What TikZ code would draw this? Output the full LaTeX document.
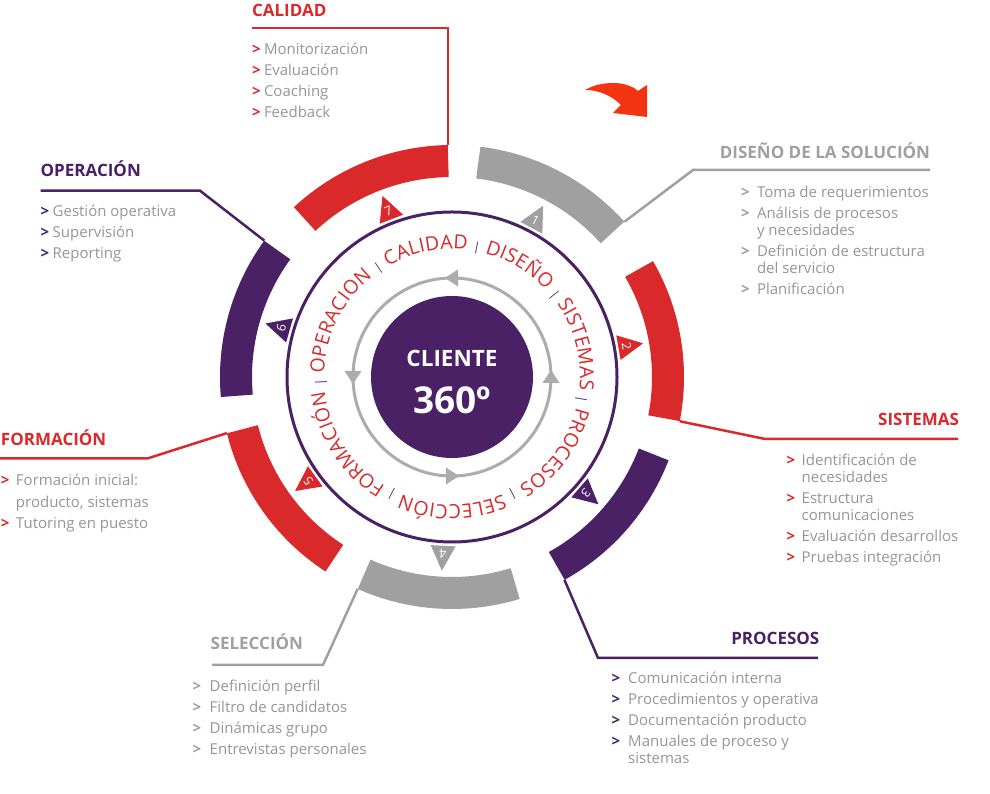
\documentclass[tikz,border=0pt]{standalone}
\usepackage{fontspec}
\setmainfont{Open Sans}
\usetikzlibrary{calc,decorations.text}

\definecolor{rojo}{RGB}{218,41,43}
\definecolor{morado}{RGB}{74,33,101}
\definecolor{gris}{RGB}{160,160,160}
\definecolor{grisclaro}{RGB}{172,172,172}
\definecolor{textgris}{RGB}{150,150,150}
\definecolor{flecha}{RGB}{242,52,18}

% list marker and indent of wrapped lines
\newcommand{\mk}[2][12pt]{\makebox[#1][l]{\textcolor{#2}{\bfseries >}}}
\newcommand{\sg}[1][12pt]{\hspace*{#1}}
% fonts of the ring text
\newcommand{\rt}{\fontsize{19.5}{19.5}\selectfont}
\newcommand{\rb}{\fontsize{12}{12}\selectfont}

\tikzset{
  titulo/.style={font=\fontsize{17}{17}\selectfont\bfseries, text=#1, inner sep=0pt, outer sep=0pt},
  lista/.style={font=\fontsize{15}{17}\selectfont, text=textgris, align=left, inner sep=0pt, outer sep=0pt, anchor=north west},
  conector/.style={draw=#1, line width=2.5pt, line join=miter},
  banda/.style={draw=#1, line width=32pt},
}

\begin{document}
\begin{tikzpicture}[x=1pt,y=1pt]
\path[use as bounding box,fill=white] (0,0) rectangle (990,794);
\coordinate (c) at (452,417);

% outer bands, one per phase
\foreach \a/\b/\col/\e [count=\i] in {42/83/gris/42, -11/30/rojo/-11, -61/-21/morado/-61, -114/-73/gris/-114, -166/-123/rojo/-166, 144/185/morado/144, 91/133/rojo/91}{
  \draw[banda=\col] ($(c)+(\a:216)$) arc[start angle=\a, end angle=\b, radius=216];
  \coordinate (s\i) at ($(c)+(\e:232)$);
}

% ring and numbered marks
\draw[morado, line width=3pt] (c) circle[radius=165];
\foreach \t/\col [count=\i] in {62/gris, 10/rojo, -41/morado, -93/gris, -144/rojo, 164/morado, 111/rojo}{
  \begin{scope}[shift={(c)}, rotate=\t-90]
    \fill[\col] (-12.5,169) -- (12.5,169) -- (0,194) -- cycle;
    \node[text=white, font=\fontsize{12.5}{12.5}\selectfont, rotate=\t-90, inner sep=0pt] (n\i) at (0,177.5) {\i};
  \end{scope}
}

% ring text
\path[decorate, decoration={text along path, text format delimiters={[}{]},
  text={[\rb\color{morado}]|[\rt\color{rojo}] CALIDAD [\rb\color{morado}]|[\rt\color{rojo}] DISEÑO [\rb\color{morado}]|[\rt\color{rojo}] SISTEMAS [\rb\color{morado}]|[\rt\color{rojo}] PROCESOS [\rb\color{morado}]|[\rt\color{rojo}] SELECCIÓN [\rb\color{morado}]|[\rt\color{rojo}] FORMACIÓN [\rb\color{morado}]|[\rt\color{rojo}] OPERACION},
  text align={fit to path}}]
  ($(c)+(125.5:128)$) arc[start angle=125.5, end angle=-231.5, radius=128];

% inner circle with arrows
\draw[grisclaro, line width=3pt] (c) circle[radius=99];
\foreach \a in {0,90,180,270}
  \fill[grisclaro, shift={(c)}, rotate=\a] (99,7) -- (90.5,-6) -- (107.5,-6) -- cycle;

\node[circle, fill=morado, minimum size=162pt, inner sep=0pt] (cli) at (c) {};
\node[text=white, font=\fontsize{22.5}{22.5}\selectfont\bfseries, anchor=base, inner sep=0pt] (cl) at (452,427.3) {CLIENTE};
\node[text=white, font=\fontsize{37}{37}\selectfont\bfseries, anchor=base, inner sep=0pt] (tr) at (452,380.7) {360º};

% arrow on top
\fill[flecha] (585,704) .. controls (600,713) and (626,714) .. (638,703) -- (647,709) -- (647,677)
  -- (613,681) -- (621,689) .. controls (611,699) and (598,704) .. (585,704) -- cycle;

% CALIDAD
\node[titulo=rojo, anchor=base west] (cal) at (252,777.5) {CALIDAD};
\coordinate (cal-l) at (252,766);
\draw[conector=rojo] (s7) |- (cal-l);
\node[lista] (cal-t) at (252,750.7) {\mk{rojo}Monitorización\\[4pt]\mk{rojo}Evaluación\\[4pt]\mk{rojo}Coaching\\[4pt]\mk{rojo}Feedback};

% OPERACION
\node[titulo=morado, anchor=base west] (ope) at (40.7,617.3) {OPERACIÓN};
\coordinate (ope-l) at (40.7,603.3);
\coordinate (ope-k) at (200,603.3);
\draw[conector=morado] (s6) -- (ope-k) -- (ope-l);
\node[lista] (ope-t) at (40.7,589) {\mk{morado}Gestión operativa\\[4pt]\mk{morado}Supervisión\\[4pt]\mk{morado}Reporting};

% DISENO
\node[titulo=gris, anchor=base east] (dis) at (930,635.7) {DISEÑO DE LA SOLUCIÓN};
\coordinate (dis-k) at (693,624);
\coordinate (dis-r) at (930,624);
\draw[conector=gris] (s1) -- (dis-k) -- (dis-r);
\node[lista] (dis-t) at (741,608.3) {\mk[16pt]{gris}Toma de requerimientos\\[4pt]\mk[16pt]{gris}Análisis de procesos\\\sg[16pt]y necesidades\\[4pt]\mk[16pt]{gris}Definición de estructura\\\sg[16pt]del servicio\\[4pt]\mk[16pt]{gris}Planificación};

% SISTEMAS
\node[titulo=rojo, anchor=base east] (sis) at (959,368) {SISTEMAS};
\coordinate (sis-k) at (765,355);
\coordinate (sis-r) at (958,355);
\draw[conector=rojo] (s2) -- (sis-k) -- (sis-r);
\node[lista] (sis-t) at (786.7,340) {\mk[15pt]{rojo}Identificación de\\\sg[15pt]necesidades\\[4pt]\mk[15pt]{rojo}Estructura\\\sg[15pt]comunicaciones\\[4pt]\mk[15pt]{rojo}Evaluación desarrollos\\[4pt]\mk[15pt]{rojo}Pruebas integración};

% PROCESOS
\node[titulo=morado, anchor=base east] (pro) at (819.3,149) {PROCESOS};
\coordinate (pro-k) at (598,136);
\coordinate (pro-r) at (818,136);
\draw[conector=morado] (s3) -- (pro-k) -- (pro-r);
\node[lista] (pro-t) at (611.7,121.7) {\mk[16.5pt]{morado}Comunicación interna\\[4pt]\mk[16.5pt]{morado}Procedimientos y operativa\\[4pt]\mk[16.5pt]{morado}Documentación producto\\[4pt]\mk[16.5pt]{morado}Manuales de proceso y\\\sg[16.5pt]sistemas};

% SELECCION
\node[titulo=gris, anchor=base west] (sel) at (210.7,144) {SELECCIÓN};
\coordinate (sel-k) at (323,129);
\coordinate (sel-l) at (212,129);
\draw[conector=gris] (s4) -- (sel-k) -- (sel-l);
\node[lista] (sel-t) at (192.7,113.5) {\mk[17pt]{gris}Definición perfil\\[4pt]\mk[17pt]{gris}Filtro de candidatos\\[4pt]\mk[17pt]{gris}Dinámicas grupo\\[4pt]\mk[17pt]{gris}Entrevistas personales};

% FORMACION
\node[titulo=rojo, anchor=base west] (for) at (1,348) {FORMACIÓN};
\coordinate (for-k) at (148,335.7);
\coordinate (for-l) at (0,335.7);
\draw[conector=rojo] (s5) -- (for-k) -- (for-l);
\node[lista] (for-t) at (1,319.5) {\mk[15pt]{rojo}Formación inicial:\\[5pt]\sg[15pt]producto, sistemas\\[4pt]\mk[15pt]{rojo}Tutoring en puesto};
\end{tikzpicture}
\end{document}
